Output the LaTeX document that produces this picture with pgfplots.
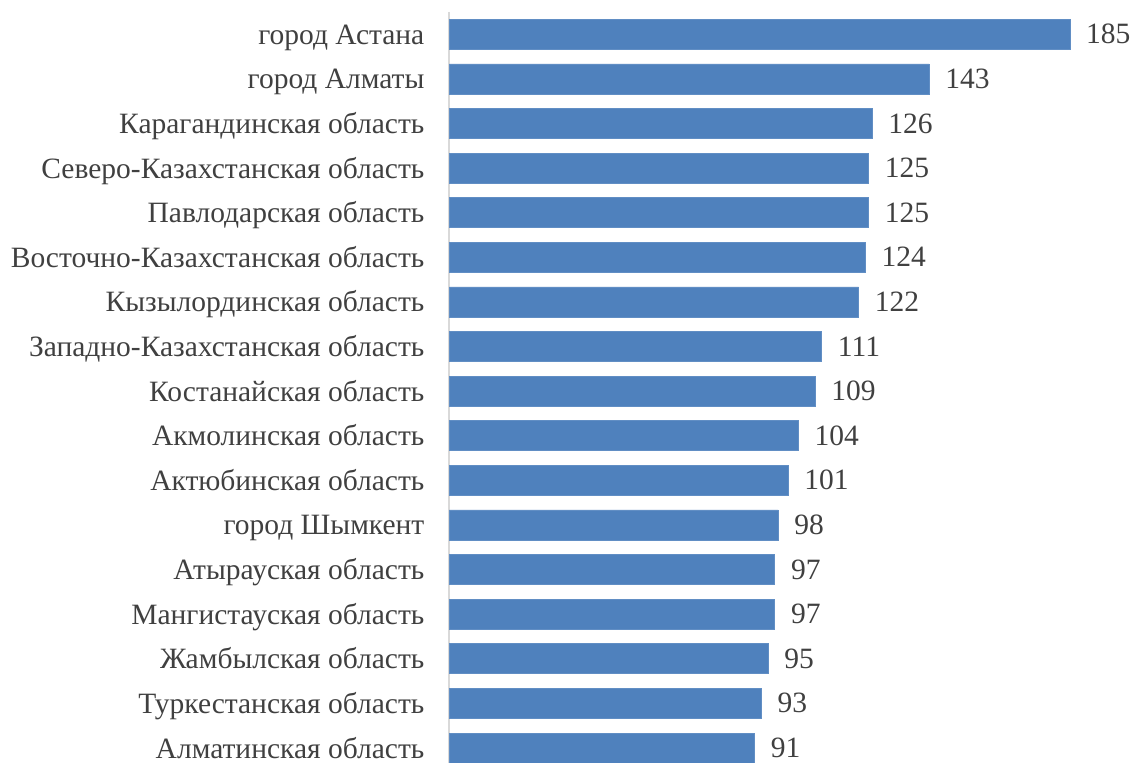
\documentclass[border=0pt]{standalone}
\usepackage{pgfplots}
\pgfplotsset{compat=1.18}
\usepackage{fontspec}
\setmainfont{Liberation Serif}
\definecolor{barblue}{HTML}{4F81BD}
\definecolor{txt}{HTML}{404040}
\definecolor{axgray}{HTML}{D9D9D9}
\begin{document}
\begin{tikzpicture}
\begin{axis}[
  name=ax,
  scale only axis,
  width=248.2pt, height=300.4pt,
  xbar, bar width=12pt,
  xmin=0, xmax=185,
  ymin=-0.5, ymax=16.336,
  y dir=reverse,
  hide x axis,
  axis y line=left,
  y axis line style={draw=axgray, line width=0.8pt, -},
  ytick={0,...,16},
  ytick style={draw=none},
  yticklabels={город Астана, город Алматы, Карагандинская область, Северо-Казахстанская область, Павлодарская область, Восточно-Казахстанская область, Кызылординская область, Западно-Казахстанская область, Костанайская область, Акмолинская область, Актюбинская область, город Шымкент, Атырауская область, Мангистауская область, Жамбылская область, Туркестанская область, Алматинская область},
  yticklabel style={font=\fontsize{11.8}{14}\selectfont, text=txt, xshift=-4.4pt, yshift=-1.6pt, text height=0.68em, text depth=0.2em},
  /pgf/number format/assume math mode=true,
  nodes near coords,
  nodes near coords style={font=\fontsize{11.8}{14}\selectfont, text=txt, anchor=west, xshift=3pt, yshift=-1.4pt, text height=0.68em, text depth=0.2em},
  clip=false,
]
\addplot[fill=barblue, draw=barblue!90!white, line width=0.3pt] coordinates {
(185,0) (143,1) (126,2) (125,3) (125,4) (124,5) (122,6) (111,7) (109,8) (104,9) (101,10) (98,11) (97,12) (97,13) (95,14) (93,15) (91,16)
};
\end{axis}
\pgfresetboundingbox
\path[use as bounding box] ([xshift=-179.8pt]ax.south west) rectangle ([xshift=25.2pt,yshift=4.8pt]ax.north east);
\end{tikzpicture}
\end{document}
